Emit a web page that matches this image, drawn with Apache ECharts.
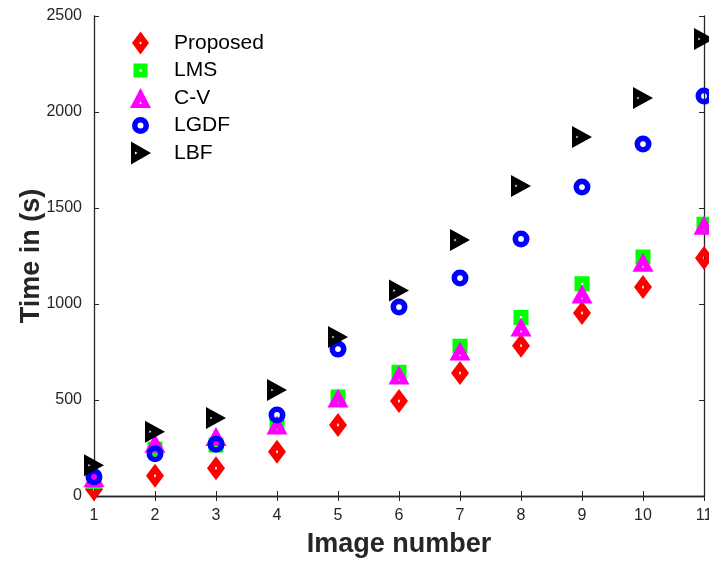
<!DOCTYPE html>
<html>
<head>
<meta charset="utf-8">
<script src="https://cdn.jsdelivr.net/npm/echarts@6/dist/echarts.min.js"></script>
<style>
  html, body { margin: 0; padding: 0; background: #fff; }
  #chart { width: 709px; height: 561px; }
</style>
</head>
<body>
<div id="chart"></div>
<script>
// Image indices on the x axis
const imageNumbers = [1, 2, 3, 4, 5, 6, 7, 8, 9, 10, 11];

// Running time (seconds) per method
const proposed = [35, 105, 145, 230, 370, 495, 640, 783, 953, 1088, 1240];
const lms      = [75, 245, 265, 365, 515, 645, 780, 930, 1105, 1245, 1415];
const cv       = [95, 275, 310, 370, 510, 630, 755, 880, 1052, 1218, 1410];
const lgdf     = [100, 220, 270, 422, 765, 984, 1135, 1339, 1609, 1833, 2083];
const lbf      = [160, 335, 406, 552, 828, 1070, 1333, 1615, 1870, 2073, 2380];

const seriesNames = ['Proposed', 'LMS', 'C-V', 'LGDF', 'LBF'];
const yTicks = [0, 500, 1000, 1500, 2000, 2500];

// Marker shapes with a small hole in the centre (inner sub-path wound the other way)
const SYM = {
  diamond: 'path://M50 0 L100 50 L50 100 L0 50 Z M50 42 L44 50 L50 58 L56 50 Z',
  square: 'path://M0 0 L100 0 L100 100 L0 100 Z M42 42 L42 58 L58 58 L58 42 Z',
  triUp: 'path://M50 0 L100 100 L0 100 Z M50 66 L45 78 L55 78 Z',
  ring: 'path://M50 0 A50 50 0 1 1 50 100 A50 50 0 1 1 50 0 Z M50 33 A17 17 0 1 0 50 67 A17 17 0 1 0 50 33 Z',
  triRight: 'path://M0 0 L100 50 L0 100 Z M22 44 L22 56 L32 50 Z'
};

// Legend icons drawn inside a common 84x100 frame (the leading moves fix the frame),
// so every icon keeps its own size within the legend box
const ICON = {
  diamond: 'path://M0 0 M84 100 M42 4 L76 50 L42 96 L8 50 Z M42 44 L37 50 L42 56 L47 50 Z',
  square: 'path://M0 0 M84 100 M14 22 L70 22 L70 78 L14 78 Z M37 45 L37 55 L47 55 L47 45 Z',
  triUp: 'path://M0 0 M84 100 M42 10 L84 90 L0 90 Z M42 62 L37 74 L47 74 Z',
  ring: 'path://M0 0 M84 100 M42 16 A34 34 0 1 1 42 84 A34 34 0 1 1 42 16 Z M42 38 A12 12 0 1 0 42 62 A12 12 0 1 0 42 38 Z',
  triRight: 'path://M0 0 M84 100 M4 4 L84 50 L4 96 Z M20 44 L20 56 L30 50 Z'
};

const styles = [
  { symbol: SYM.diamond, icon: ICON.diamond, size: [18, 24], color: '#ff0000' },
  { symbol: SYM.square, icon: ICON.square, size: [15, 15], color: '#00ff00' },
  { symbol: SYM.triUp, icon: ICON.triUp, size: [21, 19], color: '#ff00ff' },
  { symbol: SYM.ring, icon: ICON.ring, size: [17, 17], color: '#0000ff' },
  { symbol: SYM.triRight, icon: ICON.triRight, size: [20, 22], color: '#000000' }
];

const values = [proposed, lms, cv, lgdf, lbf];

const axisColor = '#262626';
const font = 'Liberation Sans, Arial, Helvetica, sans-serif';

const series = seriesNames.map((name, i) => ({
  name: name,
  type: 'scatter',
  xAxisIndex: 0,
  yAxisIndex: 0,
  symbol: styles[i].symbol,
  symbolSize: styles[i].size,
  itemStyle: { color: styles[i].color, opacity: 1 },
  emphasis: { disabled: true },
  clip: false,
  data: imageNumbers.map((x, k) => [x, values[i][k]])
}));

const chart = echarts.init(document.getElementById('chart'), null, { renderer: 'canvas' });

const baseAxisLine = { show: true, lineStyle: { color: axisColor, width: 1.3 } };
const baseTick = { show: true, inside: true, length: 5, lineStyle: { color: axisColor, width: 1 } };
const plain = v => String(v);

chart.setOption({
  backgroundColor: '#ffffff',
  animation: false,
  grid: { left: 94, right: 5, top: 16, bottom: 65, containLabel: false, outerBoundsMode: 'none' },
  legend: {
    orient: 'vertical',
    left: 130,
    top: 30.5,
    padding: 0,
    itemWidth: 21,
    itemHeight: 25,
    itemGap: 2.5,
    symbolKeepAspect: true,
    selectedMode: false,
    textStyle: { fontFamily: font, fontSize: 21, color: '#000', padding: [0, 0, 0, 18] },
    data: seriesNames.map((name, i) => ({ name: name, icon: styles[i].icon }))
  },
  xAxis: [
    {
      type: 'value', min: 1, max: 11, interval: 1,
      name: 'Image number', nameLocation: 'middle', nameGap: 35, nameMoveOverlap: false,
      nameTextStyle: { fontFamily: font, fontSize: 27, fontWeight: 'bold', color: axisColor },
      axisLine: baseAxisLine, axisTick: baseTick,
      axisLabel: { fontFamily: font, fontSize: 16, color: axisColor, margin: 12, formatter: plain },
      splitLine: { show: false }
    },
    {
      type: 'value', min: 1, max: 11, interval: 1, position: 'top',
      axisLine: baseAxisLine, axisTick: baseTick,
      axisLabel: { show: false }, splitLine: { show: false }
    }
  ],
  yAxis: [
    {
      type: 'value', min: yTicks[0], max: yTicks[yTicks.length - 1], interval: 500,
      name: 'Time in (s)', nameLocation: 'middle', nameGap: 49, nameMoveOverlap: false,
      nameTextStyle: { fontFamily: font, fontSize: 27, fontWeight: 'bold', color: axisColor },
      axisLine: baseAxisLine, axisTick: baseTick,
      axisLabel: { fontFamily: font, fontSize: 16, color: axisColor, margin: 12, formatter: plain },
      splitLine: { show: false }
    },
    {
      type: 'value', min: yTicks[0], max: yTicks[yTicks.length - 1], interval: 500, position: 'right',
      axisLine: baseAxisLine, axisTick: baseTick,
      axisLabel: { show: false }, splitLine: { show: false }
    }
  ],
  series: series
});
</script>
</body>
</html>
